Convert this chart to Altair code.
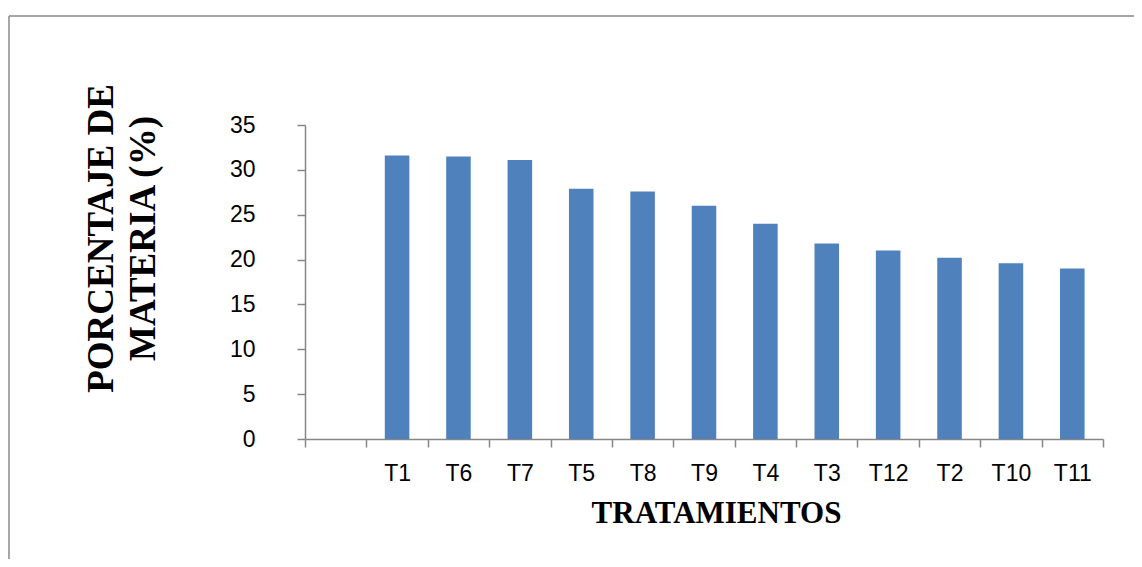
import altair as alt
import pandas as pd

categories = ["T1", "T6", "T7", "T5", "T8", "T9", "T4", "T3", "T12", "T2", "T10", "T11"]
values = [31.6, 31.5, 31.1, 27.9, 27.6, 26.0, 24.0, 21.8, 21.0, 20.2, 19.6, 19.0]
x_domain = [""] + categories
y_ticks = [0, 5, 10, 15, 20, 25, 30, 35]

df = pd.DataFrame({"trat": categories, "pct": values})

W, H = 798, 314
PAD_L, PAD_T = 297, 117
TOTAL_W, TOTAL_H = 1126, 551
GRAY = "#868686"

bars = alt.Chart(df).mark_bar(color="#4F81BD", width=alt.RelativeBandSize(0.4)).encode(
    x=alt.X(
        "trat:N",
        sort=x_domain,
        scale=alt.Scale(domain=x_domain, paddingInner=0, paddingOuter=0),
        axis=alt.Axis(
            title="TRATAMIENTOS",
            tickBand="extent",
            labelAngle=0,
            labelFont="Liberation Sans",
            labelFontSize=23,
            labelColor="black",
            labelPadding=15,
            tickSize=8,
            tickColor=GRAY,
            domainColor=GRAY,
            domainWidth=1.5,
            tickWidth=1.5,
            grid=False,
            titleFont="Liberation Serif",
            titleFontWeight="bold",
            titleFontSize=31,
            titleColor="black",
            titleX=411,
            titleY=74,
            titleAlign="center",
            titleBaseline="middle",
        ),
    ),
    y=alt.Y(
        "pct:Q",
        scale=alt.Scale(domain=[0, 35], nice=False),
        axis=alt.Axis(
            values=y_ticks,
            title=["PORCENTAJE DE", "MATERIA (%)"],
            labelFont="Liberation Sans",
            labelFontSize=23,
            labelColor="black",
            labelPadding=42,
            tickSize=8,
            tickColor=GRAY,
            domainColor=GRAY,
            domainWidth=1.5,
            tickWidth=1.5,
            grid=False,
            titleFont="Liberation Serif",
            titleFontWeight="bold",
            titleFontSize=37,
            titleColor="black",
            titleAngle=270,
            titleX=-204,
            titleY=113,
            titleAlign="center",
            titleBaseline="middle",
            titleLineHeight=42,
        ),
    ),
)

frame_src = pd.DataFrame({"k": [0]})
top_line = alt.Chart(frame_src).mark_rule(color="#8a8a8a", strokeWidth=1.5).encode(
    x=alt.value(-296), x2=alt.value(TOTAL_W - PAD_L), y=alt.value(-109)
)
left_line = alt.Chart(frame_src).mark_rule(color="#8a8a8a", strokeWidth=1.5).encode(
    x=alt.value(-296), y=alt.value(-109), y2=alt.value(TOTAL_H - PAD_T)
)

chart = alt.layer(bars, top_line, left_line).properties(
    width=W,
    height=H,
    padding={"left": PAD_L, "top": PAD_T, "right": TOTAL_W - PAD_L - W, "bottom": TOTAL_H - PAD_T - H},
    autosize=alt.AutoSizeParams(type="none"),
    background="white",
).configure_view(stroke=None)

chart.save("out.html", embed_options={"renderer": "svg", "actions": False})
